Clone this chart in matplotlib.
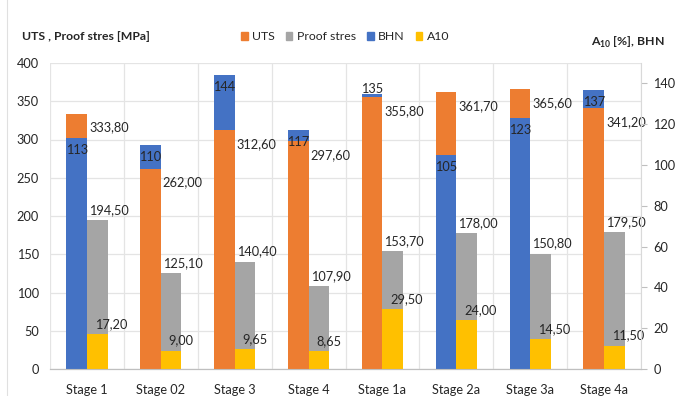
import numpy as np
import matplotlib
matplotlib.use("Agg")
import matplotlib.pyplot as plt
from matplotlib.patches import Patch
from matplotlib.lines import Line2D

plt.rcParams['font.family'] = ['Lato', 'DejaVu Sans']
plt.rcParams['mathtext.fontset'] = 'custom'
plt.rcParams['mathtext.bf'] = 'Lato:bold'

stages = ["Stage 1", "Stage 02", "Stage 3", "Stage 4", "Stage 1a", "Stage 2a", "Stage 3a", "Stage 4a"]
uts = [333.80, 262.00, 312.60, 297.60, 355.80, 361.70, 365.60, 341.20]
proof = [194.50, 125.10, 140.40, 107.90, 153.70, 178.00, 150.80, 179.50]
bhn = [113, 110, 144, 117, 135, 105, 123, 137]
a10 = [17.20, 9.00, 9.65, 8.65, 29.50, 24.00, 14.50, 11.50]

C_UTS, C_PROOF, C_BHN, C_A10 = "#ED7D31", "#A5A5A5", "#4472C4", "#FFC000"
TXT = "#262626"
FS = 9.2

def fmt(v):
    return f"{v:.2f}".replace(".", ",")

fig = plt.figure(figsize=(6.8, 3.96), dpi=100)
ax = fig.add_axes([50/680, 1-369/396, 591/680, 306/396])
ax2 = ax.twinx()

LMAX, RMAX = 400, 150
scale = LMAX / RMAX  # right axis -> left axis units
ax.set_ylim(0, LMAX)
ax2.set_ylim(0, RMAX)
ax.set_xlim(-0.5, len(stages) - 0.5)

x = np.arange(len(stages))
w = 0.28
bhn_l = np.array(bhn) * scale
a10_l = np.array(a10) * scale

for i in range(len(stages)):
    # shorter bar drawn in front
    z_u, z_b = (3, 4) if bhn_l[i] < uts[i] else (4, 3)
    ax.bar(x[i] - w/2, uts[i], w, color=C_UTS, zorder=z_u)
    ax.bar(x[i] - w/2, bhn_l[i], w, color=C_BHN, zorder=z_b)
    ax.bar(x[i] + w/2, proof[i], w, color=C_PROOF, zorder=3)
    ax.bar(x[i] + w/2, a10_l[i], w, color=C_A10, zorder=4)

    ax.annotate(fmt(uts[i]), (x[i], uts[i]), xytext=(2, -14), textcoords="offset pixels",
                ha="left", va="center", fontsize=FS, color=TXT, zorder=6)
    ax.annotate(fmt(proof[i]), (x[i], proof[i]), xytext=(2, 10), textcoords="offset pixels",
                ha="left", va="center", fontsize=FS, color=TXT, zorder=6)
    ax.annotate(fmt(a10[i]), (x[i], a10_l[i]), xytext=(8, 10), textcoords="offset pixels",
                ha="left", va="center", fontsize=FS, color=TXT, zorder=6)
    visible = bhn_l[i] - uts[i]
    dy = 5 if 0 < visible < 10 else -12
    ax.annotate(str(bhn[i]), (x[i] - w/2, bhn_l[i]), xytext=(0, dy), textcoords="offset pixels",
                ha="center", va="center", fontsize=FS, color=TXT, zorder=6)

# grid and axes styling
ax.set_yticks(np.arange(0, LMAX + 1, 50))
ax.set_xticks(x)
ax.set_xticks(np.arange(-0.5, len(stages), 1), minor=True)
ax.set_xticklabels(stages)
ax.grid(axis="y", color="#E4E4E4", lw=0.9, zorder=0)
ax.grid(axis="x", which="minor", color="#E4E4E4", lw=0.9, zorder=0)
ax.set_axisbelow(True)
ax.tick_params(axis="y", length=0, pad=8, labelsize=FS, labelcolor=TXT)
ax.tick_params(axis="x", which="both", length=0, pad=11, labelsize=FS, labelcolor=TXT)

ax2.set_yticks(np.arange(0, 141, 20))
ax2.tick_params(axis="y", length=4, width=0.8, color="#BFBFBF", pad=5, labelsize=FS, labelcolor=TXT)

for a in (ax, ax2):
    for s in ("top", "left"):
        a.spines[s].set_visible(False)
    a.spines["bottom"].set_color("#BFBFBF")
    a.spines["right"].set_color("#D9D9D9")
ax.spines["right"].set_visible(False)

# titles and legend
fig.text(22/680, 1-37/396, "UTS , Proof stres [MPa]", fontsize=8.8, fontweight="bold",
         color=TXT, ha="left", va="center")
fig.text(665/680, 1-42/396, "A$_{\\mathbf{10}}$ [%], BHN", fontsize=8.8, fontweight="bold",
         color=TXT, ha="right", va="center")

handles = [Patch(color=C_UTS), Patch(color=C_PROOF), Patch(color=C_BHN), Patch(color=C_A10)]
fig.legend(handles, ["UTS", "Proof stres", "BHN", "A10"], loc="center",
           bbox_to_anchor=(345/680, 1-37/396), ncol=4, frameon=False, fontsize=8.8,
           handlelength=0.55, handleheight=0.55, handletextpad=0.35, columnspacing=0.9,
           labelcolor=TXT)

fig.add_artist(Line2D([7/680, 7/680], [0, 1], color="#E0E0E0", lw=0.8))

fig.savefig("out.png", dpi=100)
